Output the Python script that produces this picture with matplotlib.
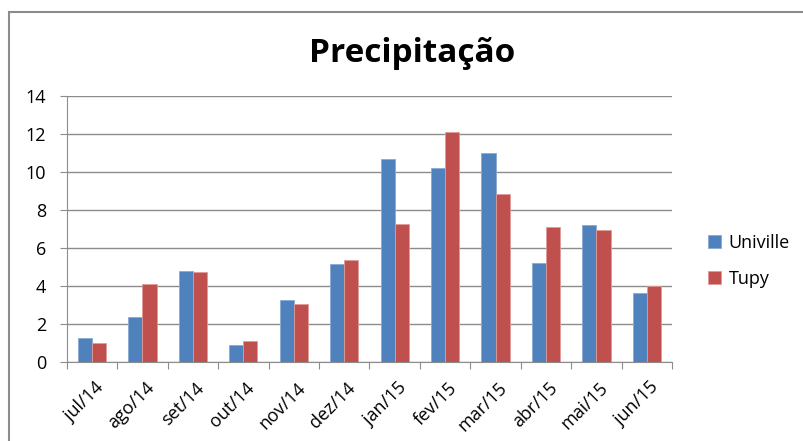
import numpy as np
import matplotlib
matplotlib.use("Agg")
import matplotlib.pyplot as plt
from matplotlib.patches import Rectangle

plt.rcParams['font.family'] = ['Open Sans', 'DejaVu Sans']

meses = ['jul/14', 'ago/14', 'set/14', 'out/14', 'nov/14', 'dez/14',
         'jan/15', 'fev/15', 'mar/15', 'abr/15', 'mai/15', 'jun/15']
univille = [1.28, 2.35, 4.81, 0.88, 3.28, 5.14, 10.68, 10.23, 11.0, 5.21, 7.21, 3.65]
tupy = [1.02, 4.09, 4.76, 1.09, 3.07, 5.39, 7.26, 12.13, 8.84, 7.13, 6.97, 3.98]

fig = plt.figure(figsize=(8.04, 4.41), dpi=100)
ax = fig.add_axes([0.083, 0.179, 0.753, 0.603])

# chart border (only left and top visible in the image)
fig.patches.append(Rectangle((9 / 804, -0.1), 1.2, 1 - 12 / 441 + 0.1,
                             transform=fig.transFigure, fill=False,
                             edgecolor='#8c8c8c', linewidth=1.5))

x = np.arange(len(meses))
w = 0.28
ax.bar(x - w / 2, univille, w, color='#4F81BD', label='Univille',
       edgecolor='#8aaad4', linewidth=0.6, zorder=3)
ax.bar(x + w / 2, tupy, w, color='#C0504D', label='Tupy',
       edgecolor='#e09a98', linewidth=0.6, zorder=3)

ax.set_xlim(-0.5, len(meses) - 0.5)
ax.set_ylim(0, 14)
ax.set_yticks(range(0, 15, 2))
ax.yaxis.grid(True, color='#8c8c8c', linewidth=1, zorder=0)
ax.set_axisbelow(True)

ax.set_xticks(np.arange(-0.5, len(meses)), minor=False)
ax.set_xticklabels([])
ax.set_xticks(x + 0.05, minor=True)
ax.set_xticklabels(meses, minor=True, rotation=45, ha='right',
                   rotation_mode='anchor', fontsize=13)
ax.tick_params(axis='x', which='major', length=5, color='#8c8c8c', direction='out')
ax.tick_params(axis='x', which='minor', length=0, pad=12)
ax.tick_params(axis='y', length=5, color='#8c8c8c', labelsize=13, pad=10)

for s in ['top', 'right']:
    ax.spines[s].set_visible(False)
for s in ['left', 'bottom']:
    ax.spines[s].set_color('#8c8c8c')

fig.text(0.513, 1 - 62 / 441, 'Precipitação', ha='center', va='baseline',
         fontsize=24, fontweight='bold')

ax.legend(loc='center left', bbox_to_anchor=(1.032, 0.38), frameon=False,
          fontsize=13, handlelength=0.75, handleheight=0.75,
          handletextpad=0.4, labelspacing=1.0)

fig.savefig('out.png', dpi=100)
